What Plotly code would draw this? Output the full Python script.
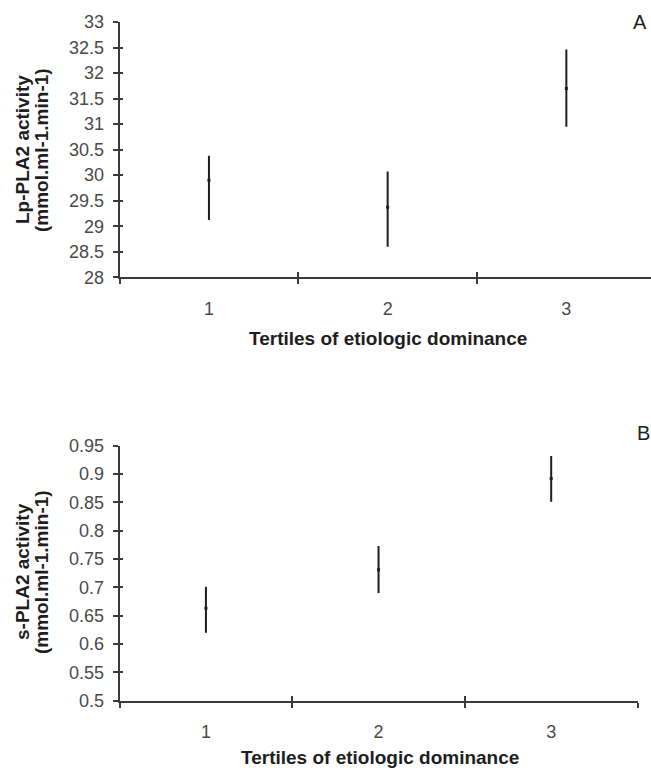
import plotly.graph_objects as go

# ---- data ----
tertiles = [1, 2, 3]
tertile_labels = ["1", "2", "3"]

lp_mean = [29.90, 29.37, 31.70]
lp_err_plus = [0.48, 0.70, 0.76]
lp_err_minus = [0.78, 0.77, 0.75]

s_mean = [0.663, 0.731, 0.892]
s_err_plus = [0.038, 0.042, 0.040]
s_err_minus = [0.043, 0.041, 0.041]

lp_ticks = [28, 28.5, 29, 29.5, 30, 30.5, 31, 31.5, 32, 32.5, 33]
lp_ticktext = ["28", "28.5", "29", "29.5", "30", "30.5", "31", "31.5", "32", "32.5", "33"]
s_ticks = [0.5, 0.55, 0.6, 0.65, 0.7, 0.75, 0.8, 0.85, 0.9, 0.95]
s_ticktext = ["0.5", "0.55", "0.6", "0.65", "0.7", "0.75", "0.8", "0.85", "0.9", "0.95"]
boundaries = [0.5, 1.5, 2.5, 3.5]

x_title = "Tertiles of etiologic dominance"
lp_title = ["Lp-PLA2 activity", "(mmol.ml-1.min-1)"]
s_title = ["s-PLA2 activity", "(mmol.ml-1.min-1)"]

# ---- styling ----
W, H = 651, 773
FONT = "Liberation Sans, Arial, sans-serif"
AX = "#3a3a3a"
TICKC = "#4a4a4a"
BAR = "#1e1e1e"

def px_x(p):
    return p / W

def px_y(p):
    return 1 - p / H

x0 = px_x(119.6)
top_dom = [px_y(277.3), px_y(22)]
bot_dom = [px_y(700.7), px_y(445.7)]
top_xr = [0.5, 0.5 + (651 - 119.6) / 178.7]
bot_xr = [0.5, 3.5]

fig = go.Figure()

def add_series(means, ep, em, xa, ya):
    fig.add_trace(go.Scatter(
        x=tertiles, y=means, mode="markers",
        marker=dict(symbol="square", size=3, color=BAR),
        error_y=dict(type="data", symmetric=False, array=ep, arrayminus=em,
                     thickness=2, width=0, color=BAR),
        xaxis=xa, yaxis=ya, showlegend=False, hoverinfo="skip"))

add_series(lp_mean, lp_err_plus, lp_err_minus, "x", "y")
add_series(s_mean, s_err_plus, s_err_minus, "x2", "y2")
# empty traces to attach overlay axes (for crossing ticks)
fig.add_trace(go.Scatter(x=[], y=[], xaxis="x3", yaxis="y3", showlegend=False))
fig.add_trace(go.Scatter(x=[], y=[], xaxis="x4", yaxis="y4", showlegend=False))

tickfont = dict(family=FONT, size=18, color=TICKC)

def xaxis_main(dom, rng, anchor):
    return dict(domain=dom, range=rng, anchor=anchor, showgrid=False, zeroline=False,
                automargin=False,
                showline=True, linecolor=AX, linewidth=2,
                tickmode="array", tickvals=tertiles, ticktext=tertile_labels,
                ticks="", tickfont=tickfont, ticklabelstandoff=14,
                minor=dict(tickmode="array", tickvals=boundaries, ticks="outside",
                           ticklen=5, tickwidth=2, tickcolor=AX, showgrid=False))

def xaxis_over(dom, rng, anchor, over):
    return dict(domain=dom, range=rng, anchor=anchor, overlaying=over,
                automargin=False,
                showgrid=False, zeroline=False, showline=False,
                tickmode="array", tickvals=boundaries, ticks="inside",
                ticklen=5, tickwidth=2, tickcolor=AX, showticklabels=False)

def yaxis_main(dom, rng, tv, tt, anchor):
    return dict(domain=dom, range=rng, anchor=anchor, showgrid=False, zeroline=False,
                automargin=False,
                showline=True, linecolor=AX, linewidth=2,
                tickmode="array", tickvals=tv, ticktext=tt,
                ticks="outside", ticklen=5, tickwidth=2, tickcolor=AX,
                tickfont=tickfont, ticklabelstandoff=5)

def yaxis_over(dom, rng, tv, anchor, over):
    return dict(domain=dom, range=rng, anchor=anchor, overlaying=over,
                automargin=False,
                showgrid=False, zeroline=False, showline=False,
                tickmode="array", tickvals=tv, ticks="inside",
                ticklen=3, tickwidth=2, tickcolor=AX, showticklabels=False)

lp_range = [lp_ticks[0], lp_ticks[-1]]
s_range = [s_ticks[0], s_ticks[-1]]

fig.update_layout(
    width=W, height=H,
    margin=dict(l=0, r=0, t=0, b=0, autoexpand=False),
    paper_bgcolor="white", plot_bgcolor="rgba(0,0,0,0)",
    xaxis=xaxis_main([x0, 1.0], top_xr, "y"),
    yaxis=yaxis_main(top_dom, lp_range, lp_ticks, lp_ticktext, "x"),
    xaxis2=xaxis_main([x0, px_x(637.5)], bot_xr, "y2"),
    yaxis2=yaxis_main(bot_dom, s_range, s_ticks, s_ticktext, "x2"),
    xaxis3=xaxis_over([x0, 1.0], top_xr, "y3", "x"),
    yaxis3=yaxis_over(top_dom, lp_range, lp_ticks, "x3", "y"),
    xaxis4=xaxis_over([x0, px_x(637.5)], bot_xr, "y4", "x2"),
    yaxis4=yaxis_over(bot_dom, s_range, s_ticks, "x4", "y2"),
)

title_font = dict(family=FONT, size=19, color="#1e1e1e")
ann = []
# x titles
ann.append(dict(text="<b>%s</b>" % x_title, x=px_x(388), y=px_y(338), xref="paper", yref="paper",
                xanchor="center", yanchor="middle", showarrow=False, font=title_font))
ann.append(dict(text="<b>%s</b>" % x_title, x=px_x(380), y=px_y(757), xref="paper", yref="paper",
                xanchor="center", yanchor="middle", showarrow=False, font=title_font))
# y titles (two lines each)
for lines, yc in ((lp_title, 150), (s_title, 572)):
    for line, xc in zip(lines, (22, 41)):
        ann.append(dict(text="<b>%s</b>" % line, x=px_x(xc), y=px_y(yc), xref="paper", yref="paper",
                        xanchor="center", yanchor="middle", textangle=-90, showarrow=False,
                        font=title_font))
# panel letters
ann.append(dict(text="A", x=px_x(640), y=px_y(22), xref="paper", yref="paper",
                xanchor="center", yanchor="middle", showarrow=False,
                font=dict(family=FONT, size=20, color="#1e1e1e")))
ann.append(dict(text="B", x=px_x(643), y=px_y(433), xref="paper", yref="paper",
                xanchor="center", yanchor="middle", showarrow=False,
                font=dict(family=FONT, size=20, color="#1e1e1e")))
fig.update_layout(annotations=ann)

# remove the default page margin so the figure fills the window exactly
fig.write_html("out.html", config={"displayModeBar": False},
               post_script="document.body.style.margin='0';document.body.style.overflow='hidden';")
